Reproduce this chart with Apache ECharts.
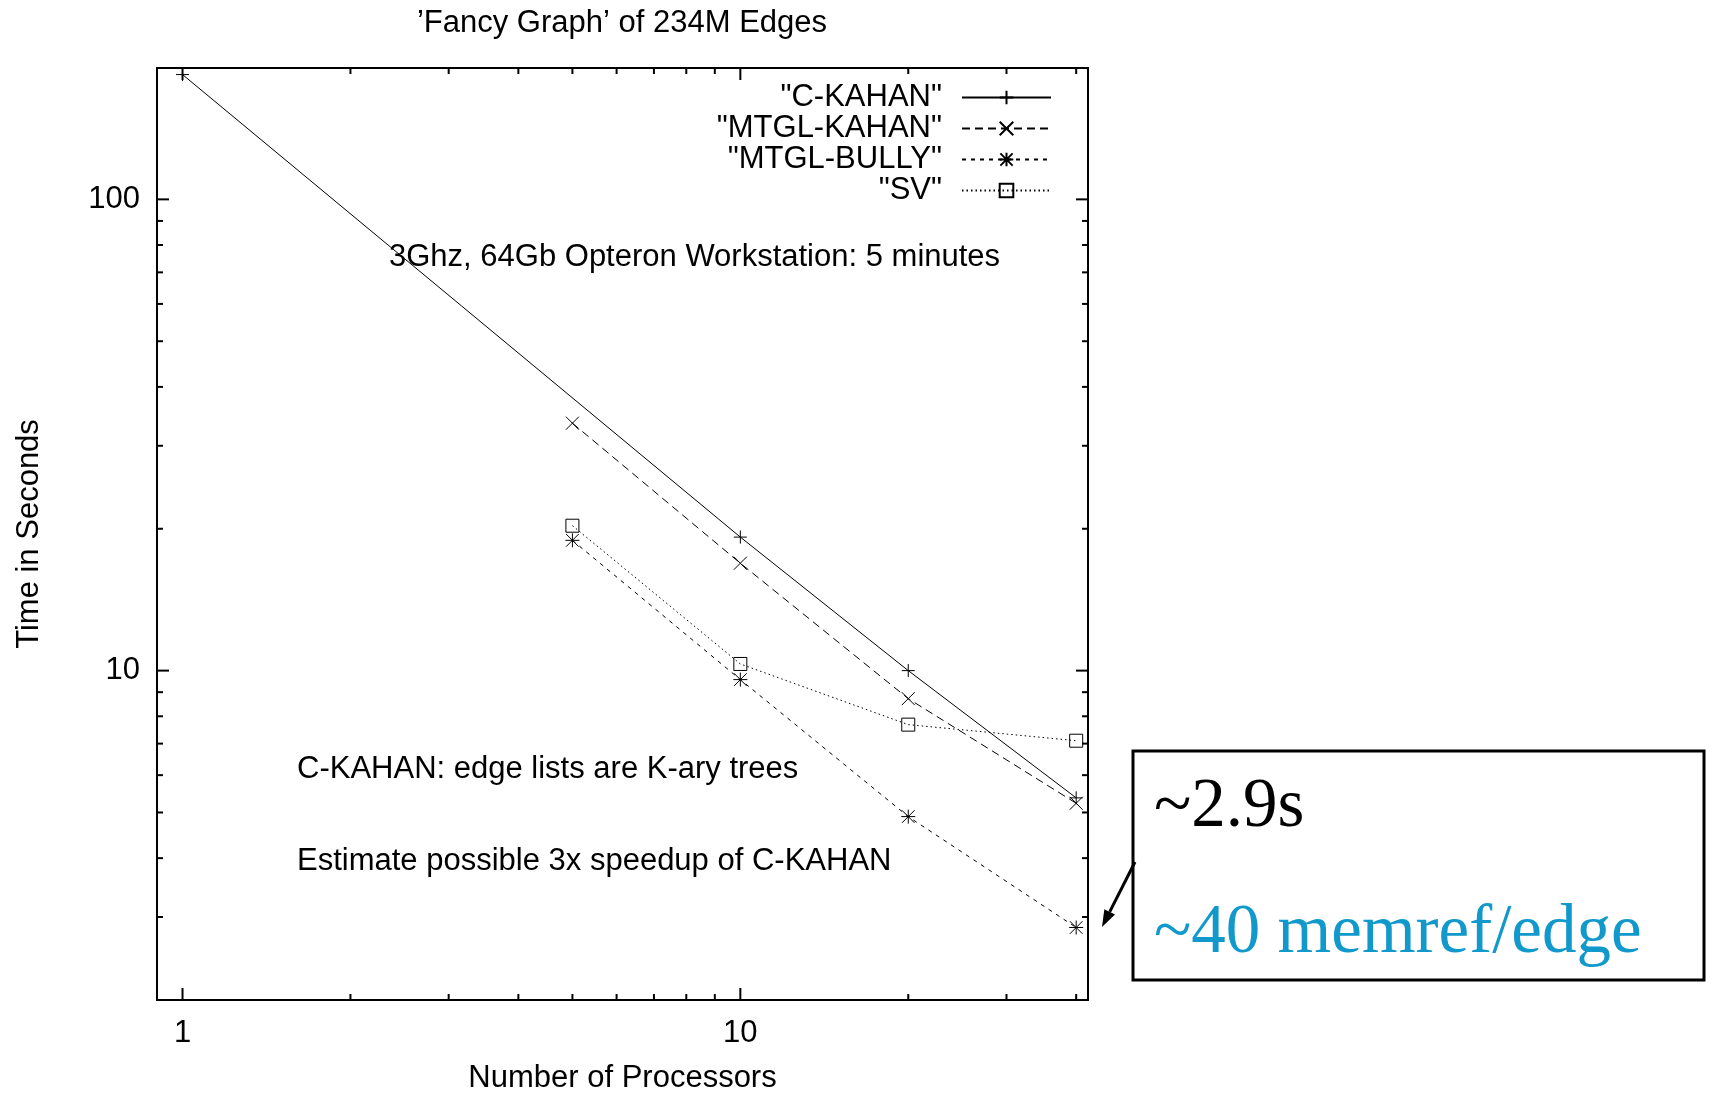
<!DOCTYPE html>
<html>
<head>
<meta charset="utf-8">
<script src="https://cdn.jsdelivr.net/npm/echarts@6/dist/echarts.min.js"></script>
<style>
html,body{margin:0;padding:0;background:#fff;}
#chart{width:1710px;height:1095px;}
</style>
</head>
<body>
<div id="chart"></div>
<script>
// ---- data ----
const seriesNames = ['"C-KAHAN"', '"MTGL-KAHAN"', '"MTGL-BULLY"', '"SV"'];
const cKahanProcs = [1, 10, 20, 40];
const cKahanTimes = [184, 19.2, 10.0, 5.37];
const mtglProcs = [5, 10, 20, 40];
const mtglKahanTimes = [33.5, 16.9, 8.72, 5.23];
const mtglBullyTimes = [18.9, 9.57, 4.9, 2.85];
const svTimes = [20.3, 10.33, 7.68, 7.1];

const xMajorTicks = [1, 10];
const xMinorTicks = [2, 3, 4, 5, 6, 7, 8, 9, 20, 30, 40];
const yMajorTicks = [10, 100];
const yMinorTicks = [3, 4, 5, 6, 7, 8, 9, 20, 30, 40, 50, 60, 70, 80, 90];
const xTickLabels = [1, 10];
const yTickLabels = [10, 100];

const titleText = '\u2019Fancy Graph\u2019 of 234M Edges';
const xName = 'Number of Processors';
const yName = 'Time in Seconds';
const note1 = '3Ghz, 64Gb Opteron Workstation: 5 minutes';
const note2 = 'C-KAHAN: edge lists are K-ary trees';
const note3 = 'Estimate possible 3x speedup of C-KAHAN';
const boxLine1 = '~2.9s';
const boxLine2 = '~40 memref/edge';

const X_MIN = 0.9, X_MAX = 42, Y_MIN = 2, Y_MAX = 190;

// ---- helpers ----
const zip = (xs, ys) => xs.map((x, i) => [x, ys[i]]);
const SANS = '"Liberation Sans", Arial, Helvetica, sans-serif';
const SERIF = '"Liberation Serif", "Times New Roman", serif';
const FS = 31;

const plusPath = 'path://M5,0L5,10M0,5L10,5';
const crossPath = 'path://M0,0L10,10M10,0L0,10';
const starPath = 'path://M5,0L5,10M0,5L10,5M0.5,0.5L9.5,9.5M9.5,0.5L0.5,9.5';
const boxPath = 'path://M0,0L10,0L10,10L0,10Z';

function lineSeries(name, data, symbol, dash, size) {
  return {
    name: name,
    type: 'line',
    data: data,
    symbol: symbol,
    symbolSize: size,
    showAllSymbol: true,
    itemStyle: { color: 'none', borderColor: '#000', borderWidth: 1 },
    lineStyle: { color: '#000', width: 1, type: dash },
    emphasis: { disabled: true },
    silent: true,
    z: 3
  };
}

function tickItem(isX) {
  return function (params, api) {
    const cs = params.coordSys;
    const major = api.value(2) === 1;
    const len = major ? 12 : 6;
    const p = api.coord([api.value(0), api.value(1)]);
    const st = { stroke: '#000', lineWidth: 2 };
    if (isX) {
      const b = cs.y + cs.height, t = cs.y;
      return { type: 'group', children: [
        { type: 'line', shape: { x1: p[0], y1: b, x2: p[0], y2: b - len }, style: st },
        { type: 'line', shape: { x1: p[0], y1: t, x2: p[0], y2: t + len }, style: st }
      ]};
    }
    const l = cs.x, r = cs.x + cs.width;
    return { type: 'group', children: [
      { type: 'line', shape: { x1: l, y1: p[1], x2: l + len, y2: p[1] }, style: st },
      { type: 'line', shape: { x1: r, y1: p[1], x2: r - len, y2: p[1] }, style: st }
    ]};
  };
}

const xTickData = xMajorTicks.map(v => [v, Y_MIN, 1]).concat(xMinorTicks.map(v => [v, Y_MIN, 0]));
const yTickData = yMajorTicks.map(v => [X_MIN, v, 1]).concat(yMinorTicks.map(v => [X_MIN, v, 0]));

function labelFmt(list) {
  return function (v) {
    for (const t of list) { if (Math.abs(v - t) < 1e-6 * t) return String(t); }
    return '';
  };
}

// arrow geometry (annotation, not data)
const arrowTail = [1135, 862], arrowTip = [1102, 927];
const dx = arrowTip[0] - arrowTail[0], dy = arrowTip[1] - arrowTail[1];
const L = Math.hypot(dx, dy), ux = dx / L, uy = dy / L;
const headLen = 17, headHalf = 6;
const bx = arrowTip[0] - ux * headLen, by = arrowTip[1] - uy * headLen;

const chart = echarts.init(document.getElementById('chart'), null, { renderer: 'canvas' });
chart.setOption({
  animation: false,
  backgroundColor: '#fff',
  textStyle: { fontFamily: SANS },
  title: {
    text: titleText,
    left: 622,
    top: 8,
    textAlign: 'center',
    padding: 0,
    textStyle: { fontFamily: SANS, fontSize: FS, fontWeight: 'normal', color: '#000' }
  },
  legend: {
    data: seriesNames,
    orient: 'vertical',
    align: 'right',
    right: 658,
    top: 82,
    padding: 0,
    itemGap: 0,
    itemWidth: 89,
    itemHeight: 17,
    selectedMode: false,
    textStyle: { fontFamily: SANS, fontSize: FS, color: '#000', lineHeight: 31, padding: [0, 15, 0, 0] }
  },
  grid: { left: 157, top: 68, right: 622, bottom: 95, show: true, borderColor: '#000', borderWidth: 2, backgroundColor: 'transparent', outerBoundsMode: 'none', containLabel: false },
  xAxis: {
    type: 'log', logBase: 10, min: X_MIN, max: X_MAX,
    name: xName, nameLocation: 'middle', nameGap: 63,
    nameTextStyle: { fontFamily: SANS, fontSize: FS, color: '#000' },
    axisLine: { show: false }, axisTick: { show: false }, splitLine: { show: false }, minorTick: { show: false },
    axisLabel: { formatter: labelFmt(xTickLabels), fontFamily: SANS, fontSize: FS, color: '#000', margin: 18, showMinLabel: true, showMaxLabel: true, hideOverlap: false }
  },
  yAxis: {
    type: 'log', logBase: 10, min: Y_MIN, max: Y_MAX,
    name: yName, nameLocation: 'middle', nameGap: 112, nameRotate: 90,
    nameTextStyle: { fontFamily: SANS, fontSize: FS, color: '#000' },
    axisLine: { show: false }, axisTick: { show: false }, splitLine: { show: false }, minorTick: { show: false },
    axisLabel: { formatter: labelFmt(yTickLabels), fontFamily: SANS, fontSize: FS, color: '#000', margin: 17, hideOverlap: false }
  },
  series: [
    lineSeries(seriesNames[0], zip(cKahanProcs, cKahanTimes), plusPath, 'solid', 13),
    lineSeries(seriesNames[1], zip(mtglProcs, mtglKahanTimes), crossPath, [8, 5], 13),
    lineSeries(seriesNames[2], zip(mtglProcs, mtglBullyTimes), starPath, [4, 5], 14),
    lineSeries(seriesNames[3], zip(mtglProcs, svTimes), boxPath, [1.5, 3], 13),
    { type: 'custom', name: 'xticks', data: xTickData, renderItem: tickItem(true), silent: true, z: 5, encode: { x: 0, y: 1 } },
    { type: 'custom', name: 'yticks', data: yTickData, renderItem: tickItem(false), silent: true, z: 5, encode: { x: 0, y: 1 } }
  ],
  graphic: [
    { type: 'text', x: 389, y: 257, style: { text: note1, font: FS + 'px ' + SANS, fill: '#000', verticalAlign: 'middle' } },
    { type: 'text', x: 297, y: 769, style: { text: note2, font: FS + 'px ' + SANS, fill: '#000', verticalAlign: 'middle' } },
    { type: 'text', x: 297, y: 861, style: { text: note3, font: FS + 'px ' + SANS, fill: '#000', verticalAlign: 'middle' } },
    { type: 'rect', shape: { x: 1133, y: 751, width: 571, height: 229 }, style: { fill: '#fff', stroke: '#000', lineWidth: 3 } },
    { type: 'text', x: 1154, y: 808, style: { text: boxLine1, font: '69px ' + SERIF, fill: '#000', verticalAlign: 'middle' } },
    { type: 'text', x: 1154, y: 934, style: { text: boxLine2, font: '69px ' + SERIF, fill: '#1199cc', verticalAlign: 'middle' } },
    { type: 'line', shape: { x1: arrowTail[0], y1: arrowTail[1], x2: bx, y2: by }, style: { stroke: '#000', lineWidth: 3 } },
    { type: 'polygon', shape: { points: [arrowTip, [bx + (-uy) * headHalf, by + ux * headHalf], [bx - (-uy) * headHalf, by - ux * headHalf]] }, style: { fill: '#000' } }
  ]
});
</script>
</body>
</html>
